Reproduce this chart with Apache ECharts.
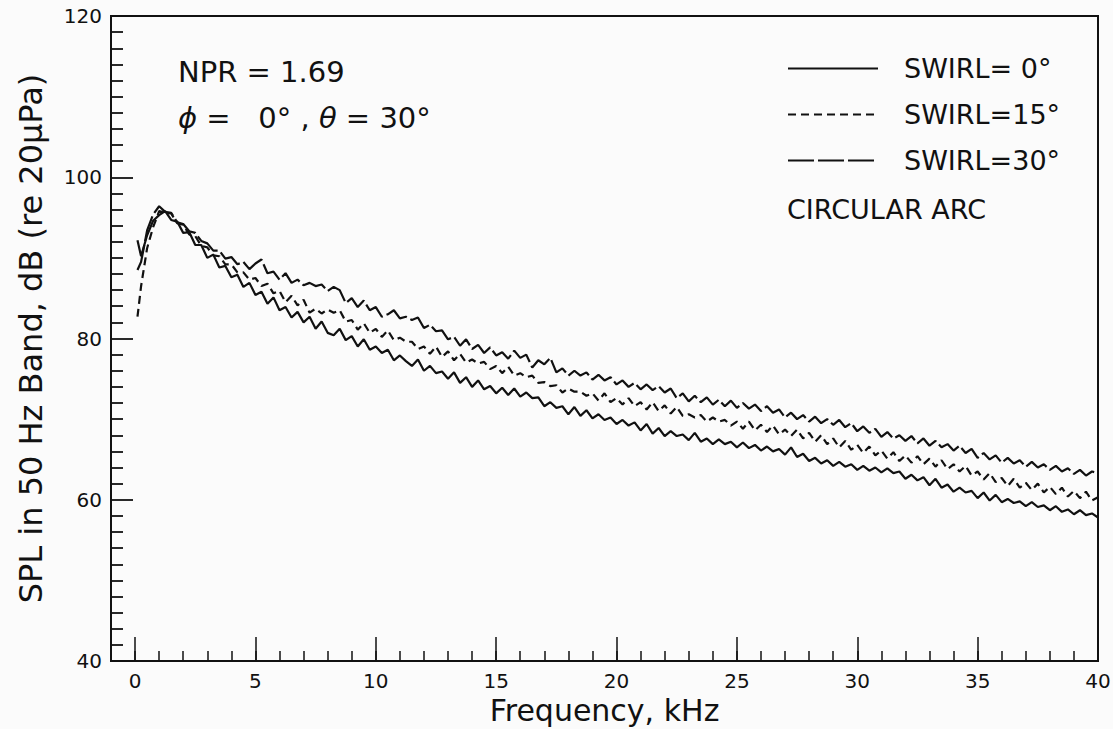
<!DOCTYPE html>
<html>
<head>
<meta charset="utf-8">
<script src="https://cdn.jsdelivr.net/npm/echarts@6/dist/echarts.min.js"></script>
<style>
html,body{margin:0;padding:0;background:#fbfbfb;}
#chart{width:1113px;height:729px;}
</style>
</head>
<body>
<div id="chart"></div>
<script>
// Frequency, kHz
const freqKHz = [0.1,0.25,0.5,0.75,1,1.25,1.5,1.75,2,2.25,2.5,2.75,3,3.25,3.5,3.75,4,4.25,4.5,4.75,
5,5.25,5.5,5.75,6,6.25,6.5,6.75,7,7.25,7.5,7.75,8,8.25,8.5,8.75,9,9.25,9.5,9.75,
10,10.25,10.5,10.75,11,11.25,11.5,11.75,12,12.25,12.5,12.75,13,13.25,13.5,13.75,14,14.25,14.5,14.75,
15,15.25,15.5,15.75,16,16.25,16.5,16.75,17,17.25,17.5,17.75,18,18.25,18.5,18.75,19,19.25,19.5,19.75,
20,20.25,20.5,20.75,21,21.25,21.5,21.75,22,22.25,22.5,22.75,23,23.25,23.5,23.75,24,24.25,24.5,24.75,
25,25.25,25.5,25.75,26,26.25,26.5,26.75,27,27.25,27.5,27.75,28,28.25,28.5,28.75,29,29.25,29.5,29.75,
30,30.25,30.5,30.75,31,31.25,31.5,31.75,32,32.25,32.5,32.75,33,33.25,33.5,33.75,34,34.25,34.5,34.75,
35,35.25,35.5,35.75,36,36.25,36.5,36.75,37,37.25,37.5,37.75,38,38.25,38.5,38.75,39,39.25,39.5,39.75,40];

// SWIRL = 0 deg (solid), dB
const swirl0 = [92.2,90.2,92.8,94.6,95.3,95.8,94.7,94.5,93.1,93.2,91.6,91.6,90.0,90.4,88.8,89.0,87.6,87.9,86.4,86.9,
85.4,85.8,84.3,85.1,83.5,83.9,82.6,83.3,82.0,82.7,81.2,82.1,80.7,80.4,81.2,79.8,80.3,79.0,79.9,78.6,
79.0,78.2,78.6,77.3,77.9,77.2,76.6,77.4,76.0,76.6,75.7,75.9,75.0,75.8,74.5,75.2,74.0,74.8,73.7,74.1,
73.2,73.9,73.0,73.8,72.8,73.3,72.6,72.7,71.6,72.1,71.4,71.6,70.6,71.5,70.4,71.1,70.1,70.6,69.9,70.2,
69.4,69.9,69.2,69.6,68.6,69.4,68.2,68.9,67.9,68.5,67.9,68.1,67.4,68.3,67.2,67.6,66.9,67.5,66.9,67.2,
66.5,67.1,66.4,66.8,66.1,66.6,66.0,66.3,65.6,66.5,65.3,65.7,64.8,65.2,64.5,64.9,64.2,64.7,64.1,64.4,
63.7,64.2,63.6,64.0,63.4,63.9,63.3,63.5,62.6,63.1,62.4,62.8,61.8,62.6,61.5,61.9,61.0,61.5,60.9,61.1,
60.2,60.9,59.9,60.6,59.7,60.1,59.6,59.8,59.2,59.7,59.1,59.3,58.7,59.2,58.5,58.8,58.2,58.7,58.1,58.3,57.8];

// SWIRL = 15 deg (short dash), dB
const swirl15 = [82.7,86.5,91.2,93.8,95.8,95.6,95.5,94.3,94.1,92.9,92.7,91.5,91.3,90.3,90.2,89.2,89.2,88.2,88.2,87.3,
87.5,86.5,86.8,85.6,85.9,84.5,85.3,84.1,84.8,83.2,83.7,83.1,83.6,83.2,83.5,82.1,82.3,81.1,81.9,80.7,
81.2,80.2,81.0,79.8,80.1,79.6,79.6,78.7,79.0,78.1,79.0,77.7,78.4,77.3,78.1,77.0,77.4,76.9,77.1,76.2,
76.6,75.7,76.5,75.4,75.7,75.2,75.4,74.5,74.6,74.1,74.2,73.3,73.8,73.4,73.4,72.9,73.2,72.3,73.2,72.1,
72.6,71.8,72.6,71.6,72.1,71.2,72.1,71.0,71.7,70.7,71.5,70.4,70.6,70.2,70.5,69.7,70.2,69.7,69.9,69.2,
69.7,68.8,69.7,68.6,69.3,68.4,69.2,68.1,68.7,67.9,68.7,67.6,68.3,67.2,68.0,66.9,67.6,66.5,67.3,66.2,
66.8,65.8,66.6,65.5,66.1,65.1,65.9,64.8,65.5,64.6,65.4,64.4,65.1,64.1,64.9,63.8,64.4,63.5,64.2,63.0,
63.5,62.5,63.3,62.2,62.7,61.7,62.6,61.5,62.1,61.2,62.0,60.9,61.6,60.7,61.5,60.4,61.1,60.2,61.0,59.9,60.3];

// SWIRL = 30 deg (long dash), dB
const swirl30 = [88.5,89.5,93.4,95.4,96.4,95.7,95.6,94.4,94.2,93.3,93.1,92.1,91.8,90.9,90.9,89.9,90.1,89.2,89.5,88.6,
89.3,89.8,88.1,88.3,87.3,88.1,86.9,87.3,86.6,86.9,86.5,86.7,85.9,86.4,86.0,84.4,85.0,83.9,84.7,83.5,
83.9,82.7,83.0,83.5,82.5,82.7,82.3,82.6,81.3,81.7,80.9,81.0,79.9,80.2,79.1,79.9,78.7,79.2,78.2,78.9,
77.9,78.3,77.5,78.5,77.6,78.0,76.4,77.3,76.8,77.6,75.8,76.3,75.4,76.0,75.4,75.8,74.9,75.5,74.8,75.2,
74.3,74.8,74.0,74.5,73.7,74.3,73.6,74.1,73.3,73.8,72.6,73.2,72.2,72.9,72.1,72.7,71.8,72.4,71.6,72.3,
71.4,72.0,71.3,71.8,71.0,71.6,70.8,71.2,70.2,70.8,70.0,70.5,69.7,70.3,69.5,70.0,69.3,69.9,69.0,69.5,
68.5,69.1,68.3,68.8,67.8,68.4,67.6,68.0,67.3,67.9,67.0,67.6,66.7,67.3,66.5,66.9,66.1,66.7,65.8,66.3,
65.2,65.8,65.0,65.5,64.6,65.2,64.5,64.9,64.1,64.7,64.0,64.4,63.7,64.2,63.5,63.9,63.2,63.7,63.0,63.5,63.3];

const xTickLabels = [0,5,10,15,20,25,30,35,40];
const xMinorTicks = [0,1,2,3,4,5,6,7,8,9,10,11,12,13,14,15,16,17,18,19,20,21,22,23,24,25,26,27,28,29,30,31,32,33,34,35,36,37,38,39,40];
const seriesNames = ['SWIRL= 0°','SWIRL=15°','SWIRL=30°'];

const FONT = 'DejaVu Sans';
const INK = '#111';

function pairs(ys){ return freqKHz.map((f,i)=>[f, ys[i]]); }

const chart = echarts.init(document.getElementById('chart'), null, {renderer:'svg'});
chart.setOption({
  backgroundColor:'#fbfbfb',
  animation:false,
  grid:{left:111, right:15, top:16, bottom:68, containLabel:false, outerBoundsMode:'none',
        show:true, borderColor:INK, borderWidth:2, backgroundColor:'transparent'},
  title:[
    {text:'NPR = 1.69', left:178, top:57, padding:0, textStyle:{fontFamily:FONT, fontSize:29, fontWeight:'normal', color:INK}},
    {text:'{g|ϕ} =   0° , {g|θ} = 30°', left:178, top:103, padding:0,
     textStyle:{fontFamily:FONT, fontSize:29, fontWeight:'normal', color:INK,
       rich:{g:{fontFamily:FONT, fontSize:29, fontStyle:'italic', color:INK}}}},
    {text:'CIRCULAR ARC', left:787, top:196, padding:0, textStyle:{fontFamily:FONT, fontSize:27, fontWeight:'normal', color:INK}}
  ],
  legend:{
    orient:'vertical', left:787, top:55, padding:0, itemWidth:90, itemHeight:14, itemGap:19,
    itemStyle:{opacity:0},
    textStyle:{fontFamily:FONT, fontSize:27, color:INK, padding:[0,0,0,21]},
    data:seriesNames
  },
  xAxis:[{
    type:'value', min:-1, max:40,
    name:'Frequency, kHz', nameLocation:'middle', nameGap:30,
    nameTextStyle:{fontFamily:FONT, fontSize:30, color:INK},
    axisLine:{show:true, onZero:false, lineStyle:{color:INK, width:2}},
    axisTick:{show:true, inside:true, length:24, customValues:xTickLabels, lineStyle:{color:INK, width:1.5}},
    axisLabel:{show:true, customValues:xTickLabels, fontFamily:FONT, fontSize:20, color:INK, margin:10},
    splitLine:{show:false}
  },{
    type:'value', min:-1, max:40, position:'bottom',
    axisLine:{show:false},
    axisTick:{show:true, inside:true, length:10, customValues:xMinorTicks, lineStyle:{color:INK, width:1.5}},
    axisLabel:{show:false},
    splitLine:{show:false}
  }],
  yAxis:{
    type:'value', min:40, max:120, interval:20,
    name:'SPL in 50 Hz Band, dB (re 20μPa)', nameLocation:'middle', nameGap:64, nameRotate:90,
    nameTextStyle:{fontFamily:FONT, fontSize:32, color:INK},
    axisLine:{show:true, onZero:false, lineStyle:{color:INK, width:2}},
    axisTick:{show:true, inside:true, length:22, lineStyle:{color:INK, width:1.8}},
    minorTick:{show:true, splitNumber:10, length:12, lineStyle:{color:INK, width:1.8}},
    axisLabel:{fontFamily:FONT, fontSize:20, color:INK, margin:9},
    splitLine:{show:false}
  },
  series:[
    {name:seriesNames[0], type:'line', data:pairs(swirl0), showSymbol:false, symbol:'none',
     lineStyle:{color:INK, width:2.2, type:'solid'}, itemStyle:{color:INK}},
    {name:seriesNames[1], type:'line', data:pairs(swirl15), showSymbol:false, symbol:'none',
     lineStyle:{color:INK, width:2.2, type:[8,5]}, itemStyle:{color:INK}},
    {name:seriesNames[2], type:'line', data:pairs(swirl30), showSymbol:false, symbol:'none',
     lineStyle:{color:INK, width:2.2, type:[26,4]}, itemStyle:{color:INK}}
  ]
});
</script>
</body>
</html>
